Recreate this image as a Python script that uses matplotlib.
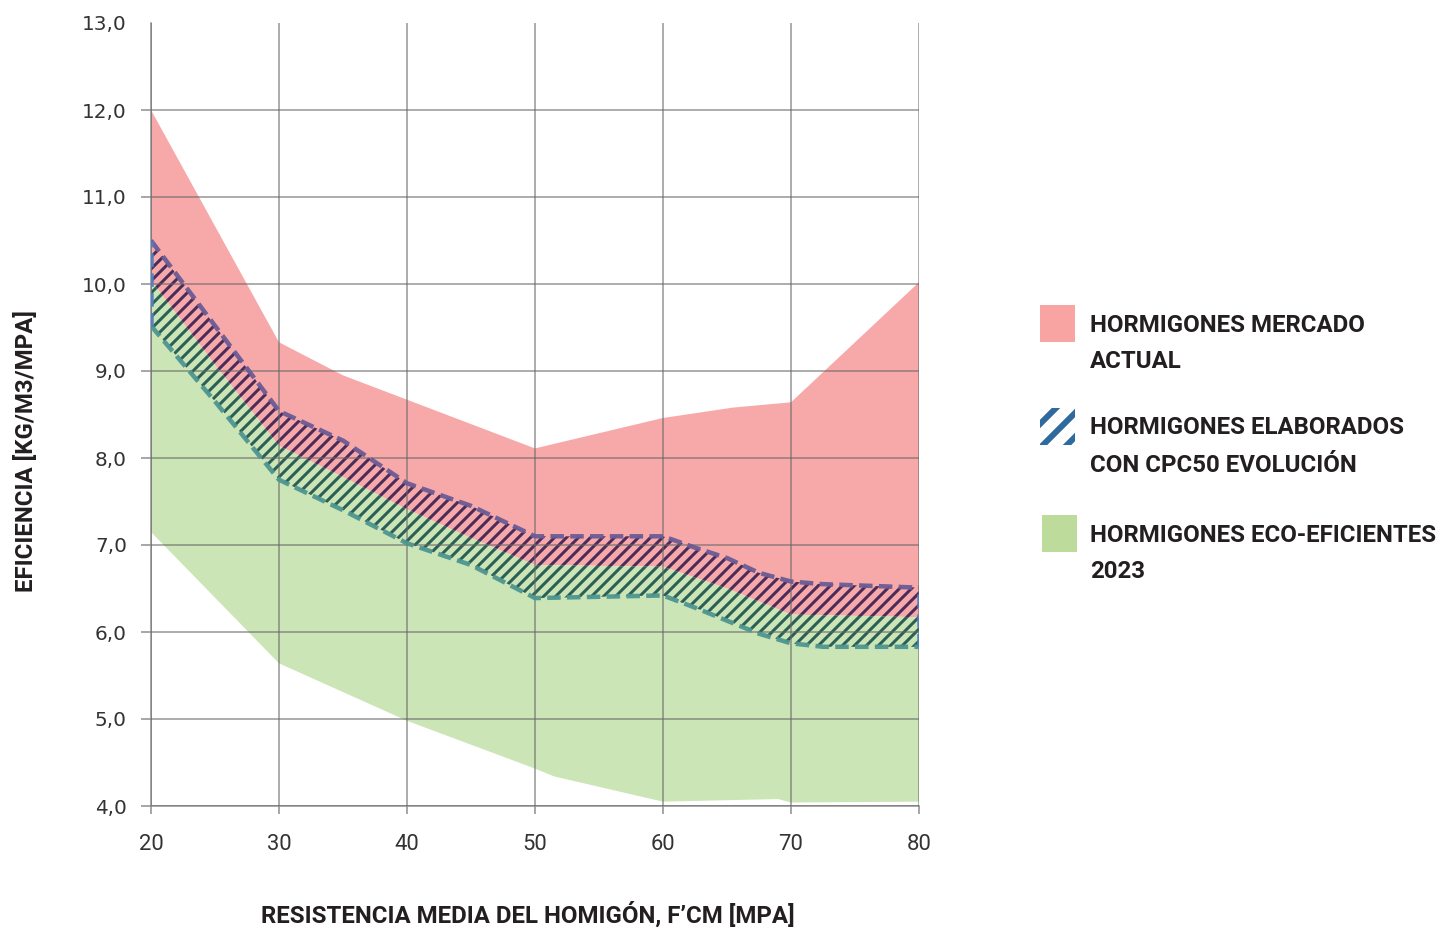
import numpy as np
import matplotlib
matplotlib.use("Agg")
import matplotlib.pyplot as plt
from matplotlib.patches import Rectangle

# --- data ---
x_mercado = [20, 30, 35, 40, 50, 60, 65.5, 70, 80]
mercado_top = [12.0, 9.33, 8.95, 8.67, 8.11, 8.46, 8.58, 8.64, 10.02]

# shared boundary between the red and green areas
x_mid = [20, 25, 30, 35, 40, 45, 50, 60, 65, 70, 80]
mid = [10.04, 9.07, 8.14, 7.78, 7.41, 7.08, 6.77, 6.75, 6.5, 6.2, 6.17]

x_eco = [20, 30, 40, 50, 51.5, 60, 69, 70, 80]
eco_low = [7.15, 5.64, 4.98, 4.43, 4.34, 4.05, 4.08, 4.04, 4.05]

x_cpc = [20, 25, 30, 35, 40, 45, 50, 60, 62.5, 65, 67.5, 70, 72.5, 80]
cpc_top = [10.5, 9.52, 8.54, 8.2, 7.71, 7.45, 7.1, 7.1, 6.97, 6.85, 6.68, 6.58, 6.55, 6.51]
cpc_low = [9.52, 8.65, 7.75, 7.4, 7.02, 6.77, 6.39, 6.42, 6.28, 6.13, 5.98, 5.87, 5.83, 5.83]

x_ticks = [20, 30, 40, 50, 60, 70, 80]
y_ticks = [4, 5, 6, 7, 8, 9, 10, 11, 12, 13]
y_tick_labels = ["4,0", "5,0", "6,0", "7,0", "8,0", "9,0", "10,0", "11,0", "12,0", "13,0"]

legend_lines = [
    ["HORMIGONES MERCADO", "ACTUAL"],
    ["HORMIGONES ELABORADOS", "CON CPC50 EVOLUCIÓN"],
    ["HORMIGONES ECO-EFICIENTES", "2023"],
]

RED = "#f7a9a9"
GREEN = "#cbe5b6"
GRID = "#666666"
NARROW = ["Roboto", "DejaVu Sans"]


def band(ax, x_a, y_a, x_b, y_b, **kw):
    # polygon between two boundary lines (each with its own x positions)
    xs = np.concatenate([x_a, x_b[::-1]])
    ys = np.concatenate([y_a, y_b[::-1]])
    return ax.fill(xs, ys, **kw)[0]


def hatch_lw(patch, lw):
    if hasattr(patch, "set_hatch_linewidth"):
        patch.set_hatch_linewidth(lw)


plt.rcParams["hatch.linewidth"] = 3
fig = plt.figure(figsize=(1448 / 72, 931 / 72), dpi=72)
ax = fig.add_axes([151 / 1448, 1 - 806 / 931, 768 / 1448, 783 / 931])

xm, xe, xc = np.array(x_mid), np.array(x_eco), np.array(x_cpc)
band(ax, np.array(x_mercado), np.array(mercado_top), xm, np.array(mid),
     facecolor=RED, edgecolor="none", zorder=1)
band(ax, xm, np.array(mid), xe, np.array(eco_low),
     facecolor=GREEN, edgecolor="none", zorder=1)

p1 = band(ax, xc, np.array(cpc_top), xm, np.array(mid), facecolor="none",
          edgecolor="#4b2b5a", hatch="//", linewidth=0, zorder=1.5)
p2 = band(ax, xm, np.array(mid), xc, np.array(cpc_low), facecolor="none",
          edgecolor="#2b5e55", hatch="//", linewidth=0, zorder=1.5)
hatch_lw(p1, 3)
hatch_lw(p2, 3)

dash = dict(linewidth=4.5, dashes=(3, 1.4), alpha=0.95, zorder=3)
ax.plot(x_cpc, cpc_top, color="#6b5b95", **dash)
ax.plot(x_cpc, cpc_low, color="#4e9690", **dash)
ax.plot([x_cpc[0], x_cpc[0]], [cpc_low[0], cpc_top[0]], color="#4f7fc4", **dash)
ax.plot([x_cpc[-1], x_cpc[-1]], [cpc_low[-1], cpc_top[-1]], color="#4f7fc4", **dash)

ax.set_xlim(20, 80)
ax.set_ylim(4, 13)
ax.set_xticks(x_ticks)
ax.set_xticklabels([str(v) for v in x_ticks], fontsize=22, family=NARROW, color="#333333")
ax.set_yticks(y_ticks)
ax.set_yticklabels(y_tick_labels, fontsize=20, family="DejaVu Sans", color="#333333")
ax.grid(True, color=GRID, linewidth=1.5, alpha=0.7)
ax.set_axisbelow(False)
ax.yaxis.get_gridlines()[-1].set_visible(False)
ax.yaxis.get_major_ticks()[-1].tick1line.set_visible(False)

for side in ["top", "right"]:
    ax.spines[side].set_visible(False)
for side in ["left", "bottom"]:
    ax.spines[side].set_color("#8c8c8c")
    ax.spines[side].set_linewidth(1.5)
ax.tick_params(axis="y", length=10, width=1.5, color="#8c8c8c", pad=14)
ax.tick_params(axis="x", length=8, width=1.5, color="#8c8c8c", pad=20)

fig.text(528 / 1448, 1 - 915 / 931, "RESISTENCIA MEDIA DEL HOMIGÓN, F’CM [MPA]",
         ha="center", va="center", fontsize=24, fontweight="bold", family=NARROW,
         color="#231f20")
fig.text(26 / 1448, 1 - 451 / 931, "EFICIENCIA [KG/M3/MPA]", rotation=90,
         ha="center", va="center", fontsize=24, fontweight="bold", family=NARROW,
         color="#231f20")

# legend drawn by hand to match the layout
leg_top = [305, 408, 515]
leg_x = [1040, 1040, 1042]
for i, lines in enumerate(legend_lines):
    y0 = 1 - (leg_top[i] + 37) / 931
    if i == 1:
        r = Rectangle((leg_x[i] / 1448, y0), 35 / 1448, 37 / 931, transform=fig.transFigure,
                      facecolor="white", edgecolor="#2e6a9e", hatch="/", linewidth=0)
        hatch_lw(r, 6)
    else:
        r = Rectangle((leg_x[i] / 1448, y0), 35 / 1448, 37 / 931, transform=fig.transFigure,
                      facecolor="#f8a4a2" if i == 0 else "#bddc9b", edgecolor="none")
    fig.patches.append(r)
    for j, line in enumerate(lines):
        yc = leg_top[i] + 20 + j * 37
        fig.text(1090 / 1448, 1 - yc / 931, line, ha="left", va="center", fontsize=24,
                 fontweight="bold", family=NARROW, color="#231f20")

fig.savefig("out.png", dpi=72)
